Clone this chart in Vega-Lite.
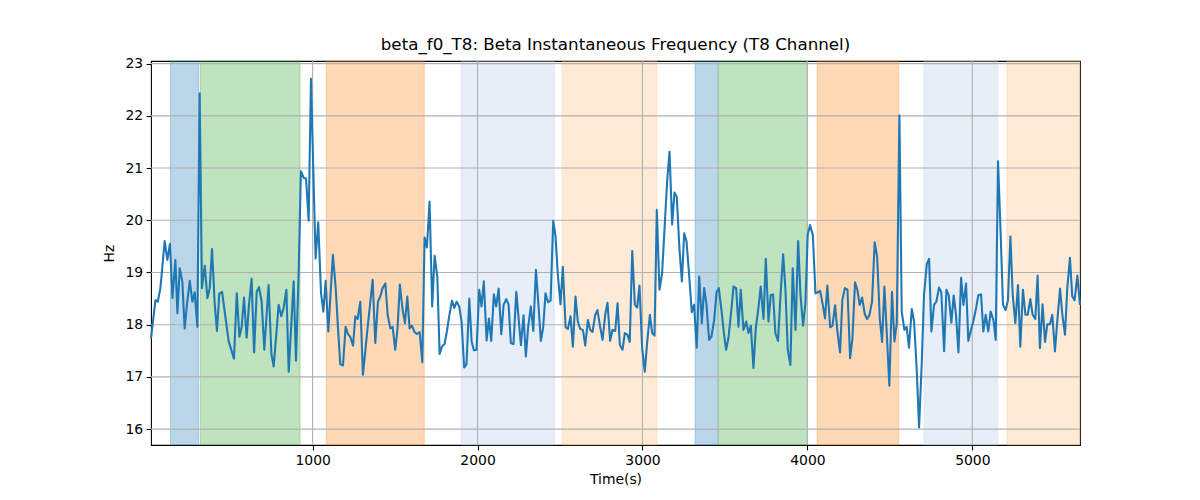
{
  "$schema": "https://vega.github.io/schema/vega-lite/v6.json",
  "width": 929,
  "height": 384,
  "autosize": {"type": "none"},
  "padding": {"left": 151, "top": 61, "right": 120, "bottom": 55},
  "background": "white",
  "title": {
    "text": "beta_f0_T8: Beta Instantaneous Frequency (T8 Channel)",
    "font": "DejaVu Sans",
    "fontSize": 16.7,
    "fontWeight": "normal",
    "color": "black",
    "offset": 3
  },
  "config": {
    "view": {"stroke": "black", "strokeWidth": 1.1},
    "axis": {
      "labelFont": "DejaVu Sans",
      "titleFont": "DejaVu Sans",
      "labelFontSize": 13.9,
      "titleFontSize": 13.9,
      "titleFontWeight": "normal",
      "labelColor": "black",
      "titleColor": "black",
      "tickColor": "black",
      "tickSize": 4.9,
      "tickWidth": 1.1,
      "labelPadding": 3.5,
      "domain": false,
      "grid": false
    }
  },
  "datasets": {
    "series": [
      {"t":20,"hz":17.74},{"t":47,"hz":18.47},{"t":61,"hz":18.44},{"t":77,"hz":18.70},{"t":103,"hz":19.60},{"t":119,"hz":19.24},{"t":135,"hz":19.55},{"t":150,"hz":18.51},{"t":168,"hz":19.24},{"t":180,"hz":18.22},{"t":194,"hz":19.08},{"t":210,"hz":18.83},{"t":224,"hz":17.93},{"t":240,"hz":18.44},{"t":255,"hz":18.84},{"t":271,"hz":18.44},{"t":285,"hz":18.62},{"t":301,"hz":17.96},{"t":315,"hz":22.43},{"t":329,"hz":18.70},{"t":346,"hz":19.13},{"t":362,"hz":18.51},{"t":376,"hz":18.70},{"t":390,"hz":19.45},{"t":406,"hz":18.41},{"t":420,"hz":17.88},{"t":434,"hz":18.59},{"t":451,"hz":18.63},{"t":467,"hz":18.25},{"t":491,"hz":17.68},{"t":523,"hz":17.35},{"t":540,"hz":18.60},{"t":556,"hz":17.77},{"t":570,"hz":17.96},{"t":584,"hz":18.52},{"t":600,"hz":17.75},{"t":614,"hz":18.38},{"t":630,"hz":18.88},{"t":645,"hz":17.47},{"t":661,"hz":18.63},{"t":675,"hz":18.72},{"t":691,"hz":18.44},{"t":707,"hz":17.52},
      {"t":733,"hz":18.76},{"t":750,"hz":17.44},{"t":764,"hz":17.20},{"t":794,"hz":18.38},{"t":810,"hz":18.16},{"t":824,"hz":18.32},{"t":841,"hz":18.67},{"t":855,"hz":17.10},{"t":885,"hz":18.83},{"t":899,"hz":17.31},{"t":915,"hz":18.95},{"t":929,"hz":20.94},{"t":946,"hz":20.81},{"t":960,"hz":20.80},{"t":976,"hz":19.99},{"t":990,"hz":22.71},{"t":1018,"hz":19.27},{"t":1034,"hz":19.96},{"t":1051,"hz":18.60},{"t":1065,"hz":18.25},{"t":1079,"hz":18.84},{"t":1095,"hz":17.87},{"t":1123,"hz":19.34},{"t":1140,"hz":18.70},{"t":1154,"hz":17.93},{"t":1168,"hz":17.24},{"t":1184,"hz":17.22},{"t":1200,"hz":17.96},{"t":1214,"hz":17.82},{"t":1228,"hz":17.77},{"t":1245,"hz":17.60},{"t":1259,"hz":18.16},{"t":1273,"hz":18.11},{"t":1289,"hz":18.44},{"t":1305,"hz":17.04},{"t":1333,"hz":17.93},{"t":1350,"hz":18.44},{"t":1364,"hz":18.86},{"t":1380,"hz":17.65},
      {"t":1396,"hz":18.44},{"t":1410,"hz":18.54},{"t":1424,"hz":18.70},{"t":1441,"hz":18.79},{"t":1455,"hz":18.19},{"t":1471,"hz":17.93},{"t":1485,"hz":17.96},{"t":1501,"hz":17.52},{"t":1515,"hz":17.93},{"t":1529,"hz":18.77},{"t":1544,"hz":18.32},{"t":1560,"hz":18.03},{"t":1574,"hz":18.54},{"t":1588,"hz":17.93},{"t":1602,"hz":17.98},{"t":1618,"hz":17.86},{"t":1632,"hz":17.82},{"t":1649,"hz":17.86},{"t":1665,"hz":17.28},{"t":1679,"hz":19.67},{"t":1693,"hz":19.48},{"t":1709,"hz":20.36},{"t":1725,"hz":18.35},{"t":1740,"hz":19.32},{"t":1756,"hz":18.92},{"t":1770,"hz":17.44},{"t":1784,"hz":17.58},{"t":1800,"hz":17.63},{"t":1814,"hz":17.87},{"t":1828,"hz":18.16},{"t":1845,"hz":18.46},{"t":1859,"hz":18.32},{"t":1873,"hz":18.44},{"t":1889,"hz":18.35},{"t":1903,"hz":18.06},{"t":1919,"hz":17.18},{"t":1933,"hz":17.24},{"t":1950,"hz":18.50},{"t":1964,"hz":17.68},{"t":1978,"hz":17.51},{"t":1994,"hz":17.52},{"t":2010,"hz":18.67},{"t":2024,"hz":18.35},{"t":2038,"hz":18.83},{"t":2055,"hz":17.70},{"t":2069,"hz":18.12},{"t":2083,"hz":17.69},{"t":2099,"hz":18.58},
      {"t":2113,"hz":18.35},{"t":2128,"hz":18.69},{"t":2144,"hz":17.82},{"t":2158,"hz":18.38},{"t":2174,"hz":18.49},{"t":2188,"hz":18.39},{"t":2202,"hz":17.65},{"t":2218,"hz":17.63},{"t":2235,"hz":18.63},{"t":2249,"hz":18.12},{"t":2263,"hz":17.61},{"t":2279,"hz":18.18},{"t":2293,"hz":17.39},{"t":2307,"hz":17.96},{"t":2323,"hz":18.35},{"t":2338,"hz":17.88},{"t":2354,"hz":19.05},{"t":2368,"hz":18.44},{"t":2384,"hz":17.69},{"t":2398,"hz":17.95},{"t":2412,"hz":18.60},{"t":2428,"hz":18.43},{"t":2443,"hz":18.46},{"t":2459,"hz":19.99},{"t":2473,"hz":19.69},{"t":2487,"hz":18.95},{"t":2503,"hz":18.39},{"t":2517,"hz":19.11},{"t":2534,"hz":17.95},{"t":2548,"hz":17.92},{"t":2564,"hz":18.16},{"t":2578,"hz":17.58},{"t":2594,"hz":18.54},{"t":2608,"hz":18.06},{"t":2622,"hz":17.92},{"t":2639,"hz":17.90},{"t":2653,"hz":17.60},{"t":2669,"hz":18.09},{"t":2683,"hz":17.90},{"t":2697,"hz":17.86},{"t":2713,"hz":18.18},{"t":2727,"hz":18.28},{"t":2744,"hz":17.95},{"t":2758,"hz":17.71},{"t":2774,"hz":18.19},{"t":2788,"hz":18.42},{"t":2804,"hz":17.69},
      {"t":2818,"hz":17.90},{"t":2835,"hz":17.88},{"t":2849,"hz":18.41},{"t":2863,"hz":17.61},{"t":2879,"hz":17.52},{"t":2893,"hz":17.84},{"t":2909,"hz":17.81},{"t":2923,"hz":17.67},{"t":2938,"hz":19.41},{"t":2954,"hz":18.38},{"t":2968,"hz":18.33},{"t":2982,"hz":18.75},{"t":2998,"hz":17.55},{"t":3014,"hz":17.10},{"t":3029,"hz":17.68},{"t":3045,"hz":18.19},{"t":3059,"hz":17.84},{"t":3073,"hz":17.79},{"t":3087,"hz":20.20},{"t":3103,"hz":18.67},{"t":3119,"hz":18.98},{"t":3134,"hz":19.85},{"t":3150,"hz":20.77},{"t":3164,"hz":21.31},{"t":3180,"hz":19.92},{"t":3194,"hz":20.53},{"t":3208,"hz":20.45},{"t":3224,"hz":19.46},{"t":3239,"hz":18.83},{"t":3253,"hz":19.75},{"t":3267,"hz":19.60},{"t":3283,"hz":18.95},{"t":3299,"hz":18.24},{"t":3313,"hz":18.38},{"t":3329,"hz":17.56},{"t":3344,"hz":18.92},{"t":3360,"hz":18.03},{"t":3374,"hz":18.70},{"t":3388,"hz":18.39},{"t":3404,"hz":17.71},{"t":3418,"hz":17.77},{"t":3435,"hz":18.09},{"t":3449,"hz":18.62},{"t":3463,"hz":18.70},{"t":3479,"hz":18.28},{"t":3495,"hz":17.81},
      {"t":3507,"hz":17.52},{"t":3521,"hz":17.74},{"t":3538,"hz":18.25},{"t":3552,"hz":18.73},{"t":3568,"hz":18.70},{"t":3582,"hz":17.96},{"t":3596,"hz":18.67},{"t":3612,"hz":17.90},{"t":3629,"hz":18.06},{"t":3643,"hz":17.84},{"t":3657,"hz":17.98},{"t":3673,"hz":17.17},{"t":3687,"hz":17.93},{"t":3703,"hz":18.32},{"t":3717,"hz":18.73},{"t":3734,"hz":18.11},{"t":3748,"hz":19.26},{"t":3764,"hz":18.06},{"t":3778,"hz":18.57},{"t":3792,"hz":18.58},{"t":3806,"hz":17.84},{"t":3822,"hz":17.69},{"t":3837,"hz":18.56},{"t":3853,"hz":19.35},{"t":3867,"hz":18.67},{"t":3881,"hz":17.52},{"t":3897,"hz":17.23},{"t":3911,"hz":19.08},{"t":3928,"hz":17.90},{"t":3944,"hz":19.60},{"t":3958,"hz":18.57},{"t":3974,"hz":17.98},{"t":3988,"hz":18.41},{"t":4002,"hz":19.72},{"t":4016,"hz":19.91},{"t":4033,"hz":19.72},{"t":4049,"hz":18.60},{"t":4063,"hz":18.62},{"t":4077,"hz":18.65},{"t":4093,"hz":18.39},{"t":4107,"hz":18.12},{"t":4121,"hz":18.75},{"t":4138,"hz":17.95},{"t":4152,"hz":17.98},{"t":4168,"hz":18.37},{"t":4182,"hz":17.87},{"t":4198,"hz":17.47},
      {"t":4212,"hz":18.47},{"t":4227,"hz":18.70},{"t":4243,"hz":18.67},{"t":4259,"hz":17.36},{"t":4273,"hz":17.74},{"t":4289,"hz":18.81},{"t":4303,"hz":18.67},{"t":4317,"hz":18.38},{"t":4332,"hz":18.52},{"t":4348,"hz":18.20},{"t":4362,"hz":18.11},{"t":4376,"hz":18.18},{"t":4392,"hz":18.44},{"t":4408,"hz":19.58},{"t":4423,"hz":19.30},{"t":4439,"hz":18.12},{"t":4453,"hz":17.67},{"t":4467,"hz":18.73},{"t":4483,"hz":17.74},{"t":4497,"hz":16.83},{"t":4513,"hz":18.63},{"t":4528,"hz":17.68},{"t":4542,"hz":18.03},{"t":4558,"hz":22.01},{"t":4572,"hz":18.25},{"t":4588,"hz":17.90},{"t":4602,"hz":17.96},{"t":4616,"hz":17.56},{"t":4633,"hz":18.30},{"t":4647,"hz":18.06},{"t":4663,"hz":17.14},{"t":4677,"hz":16.03},{"t":4693,"hz":17.23},{"t":4707,"hz":18.57},{"t":4724,"hz":19.16},{"t":4738,"hz":19.26},{"t":4752,"hz":17.87},{"t":4768,"hz":18.38},{"t":4782,"hz":18.44},{"t":4798,"hz":18.71},{"t":4812,"hz":18.62},{"t":4829,"hz":17.49},{"t":4843,"hz":18.67},{"t":4857,"hz":18.56},{"t":4873,"hz":18.04},{"t":4887,"hz":18.56},
      {"t":4901,"hz":18.19},{"t":4916,"hz":17.47},{"t":4932,"hz":18.90},{"t":4946,"hz":18.38},{"t":4962,"hz":18.79},{"t":4976,"hz":17.69},{"t":4992,"hz":17.90},{"t":5006,"hz":18.06},{"t":5023,"hz":18.32},{"t":5037,"hz":18.57},{"t":5053,"hz":18.58},{"t":5067,"hz":17.87},{"t":5081,"hz":18.19},{"t":5097,"hz":17.87},{"t":5111,"hz":18.25},{"t":5128,"hz":18.09},{"t":5142,"hz":17.71},{"t":5156,"hz":21.13},{"t":5172,"hz":19.73},{"t":5186,"hz":18.38},{"t":5202,"hz":18.28},{"t":5216,"hz":18.47},{"t":5231,"hz":19.69},{"t":5245,"hz":18.57},{"t":5261,"hz":18.03},{"t":5277,"hz":18.76},{"t":5291,"hz":17.58},{"t":5307,"hz":18.67},{"t":5322,"hz":18.19},{"t":5336,"hz":18.19},{"t":5352,"hz":18.49},{"t":5366,"hz":18.19},{"t":5382,"hz":18.11},{"t":5396,"hz":18.94},{"t":5410,"hz":17.55},{"t":5426,"hz":18.39},{"t":5441,"hz":17.67},{"t":5455,"hz":18.01},{"t":5471,"hz":18.01},{"t":5485,"hz":18.19},{"t":5501,"hz":17.49},{"t":5515,"hz":18.06},{"t":5532,"hz":18.69},{"t":5546,"hz":18.19},{"t":5562,"hz":17.81},{"t":5576,"hz":18.70},{"t":5592,"hz":19.28},{"t":5606,"hz":18.54},{"t":5620,"hz":18.47},{"t":5637,"hz":18.94},{"t":5653,"hz":18.38}
    ],
    "spans": [
      {"start":138,"end":310,"kind":"a"},
      {"start":320,"end":924,"kind":"b"},
      {"start":1083,"end":1677,"kind":"c"},
      {"start":1901,"end":2465,"kind":"d"},
      {"start":2513,"end":3087,"kind":"e"},
      {"start":3319,"end":3457,"kind":"a"},
      {"start":3461,"end":4000,"kind":"b"},
      {"start":4059,"end":4554,"kind":"c"},
      {"start":4707,"end":5154,"kind":"d"},
      {"start":5210,"end":5653,"kind":"e"}
    ],
    "xgrid": [{"v":1000},{"v":2000},{"v":3000},{"v":4000},{"v":5000}],
    "ygrid": [{"v":16},{"v":17},{"v":18},{"v":19},{"v":20},{"v":21},{"v":22},{"v":23}]
  },
  "layer": [
    {
      "data": {"name": "spans"},
      "mark": {"type": "rect", "fillOpacity": 0.3, "strokeOpacity": 0.3, "strokeWidth": 1},
      "encoding": {
        "x": {"field": "start", "type": "quantitative", "scale": {"domain": [20, 5653], "nice": false, "zero": false}, "axis": {"values": [1000, 2000, 3000, 4000, 5000], "format": "d", "title": "Time(s)", "titlePadding": 5}},
        "x2": {"field": "end"},
        "fill": {"field": "kind", "type": "nominal", "scale": {"domain": ["a","b","c","d","e"], "range": ["#1f77b4","#2ca02c","#ff7f0e","#aec7e8","#ffbb78"]}, "legend": null},
        "stroke": {"field": "kind", "type": "nominal", "scale": {"domain": ["a","b","c","d","e"], "range": ["#1f77b4","#2ca02c","#ff7f0e","#aec7e8","#ffbb78"]}, "legend": null}
      }
    },
    {
      "data": {"name": "ygrid"},
      "mark": {"type": "rule", "color": "#b0b0b0", "strokeWidth": 1.1},
      "encoding": {
        "y": {"field": "v", "type": "quantitative", "scale": {"domain": [15.696, 23.05], "nice": false, "zero": false}, "axis": {"values": [16,17,18,19,20,21,22,23], "title": "Hz", "titlePadding": 8}}
      }
    },
    {
      "data": {"name": "xgrid"},
      "mark": {"type": "rule", "color": "#b0b0b0", "strokeWidth": 1.1},
      "encoding": {
        "x": {"field": "v", "type": "quantitative"}
      }
    },
    {
      "data": {"name": "series"},
      "mark": {"type": "line", "color": "#1f77b4", "strokeWidth": 2.08, "strokeJoin": "round", "strokeCap": "butt"},
      "encoding": {
        "x": {"field": "t", "type": "quantitative"},
        "y": {"field": "hz", "type": "quantitative"}
      }
    }
  ]
}
